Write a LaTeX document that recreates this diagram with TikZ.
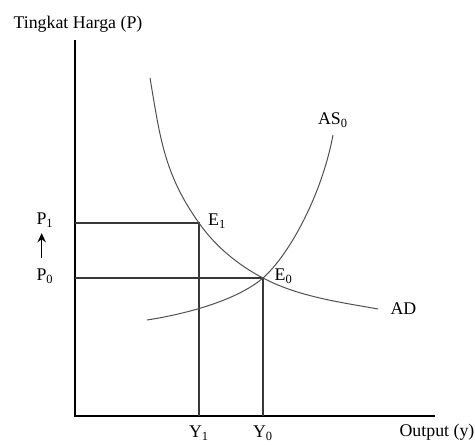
\documentclass[tikz,border=0pt]{standalone}
\usepackage{fontspec}
\setmainfont{Liberation Serif}
\usetikzlibrary{arrows.meta, positioning, calc}
\definecolor{curvegray}{RGB}{80, 80, 80}
\definecolor{guidegray}{RGB}{55, 55, 55}

\begin{document}
\begin{tikzpicture}[x=0.6pt,y=0.6pt,font=\fontsize{10.7}{12}\selectfont,
	axisline/.style={line width=0.8pt,black},
	guide/.style={line width=0.7pt,guidegray},
	curve/.style={line width=0.6pt,curvegray},
	risearrow/.style={line width=0.9pt,-{Stealth[length=5.5pt,width=5pt]}}]
	\useasboundingbox (0,0) rectangle (475,444);
	% axes and equilibrium points
	\coordinate (O) at (75,28);
	\coordinate (ytop) at (75,404);
	\coordinate (xend) at (435,28);
	\coordinate (E1) at (199,221);
	\coordinate (E0) at (263,166);
	\coordinate (ADtop) at (150,366);
	\coordinate (ADend) at (378,135);
	\coordinate (ASstart) at (147,124);
	\coordinate (ASend) at (333,309);
	\draw[axisline] (ytop) -- (O) -- (xend);
	\draw[guide] (O |- E1) -- (E1) -- (E1 |- O);
	\draw[guide] (O |- E0) -- (E0) -- (E0 |- O);
	% AD and AS curves
	\draw[curve] (ADtop) .. controls (160,307) and (164,270) .. (E1)
		.. controls (215,198) and (238,179) .. (E0)
		.. controls (298,147.5) and (339,142) .. (ADend);
	\draw[curve] (ASstart) .. controls (180,129) and (235,142) .. (E0)
		.. controls (290,190) and (322,250) .. (ASend);
	% labels
	\node (title) at (78,420) {Tingkat Harga (P)};
	\node (P1) at (45,224) {P\textsubscript{1}};
	\node (P0) at (45,168) {P\textsubscript{0}};
	\draw[risearrow,shorten <=3pt] ([xshift=-2pt]P0.north) -- ([xshift=-2pt]P1.south);
	\node[right=2pt of E1,yshift=1pt] (E1lab) {E\textsubscript{1}};
	\node[right=3.5pt of E0,yshift=1pt] (E0lab) {E\textsubscript{0}};
	\node[above=1pt of ASend] (ASlab) {AS\textsubscript{0}};
	\node[right=4pt of ADend] (ADlab) {AD};
	\node[below=2.5pt] (Y1) at (E1 |- O) {Y\textsubscript{1}};
	\node[below=2.5pt] (Y0) at (E0 |- O) {Y\textsubscript{0}};
	\node (outlab) at (437,12) {Output (y)};
\end{tikzpicture}
\end{document}
